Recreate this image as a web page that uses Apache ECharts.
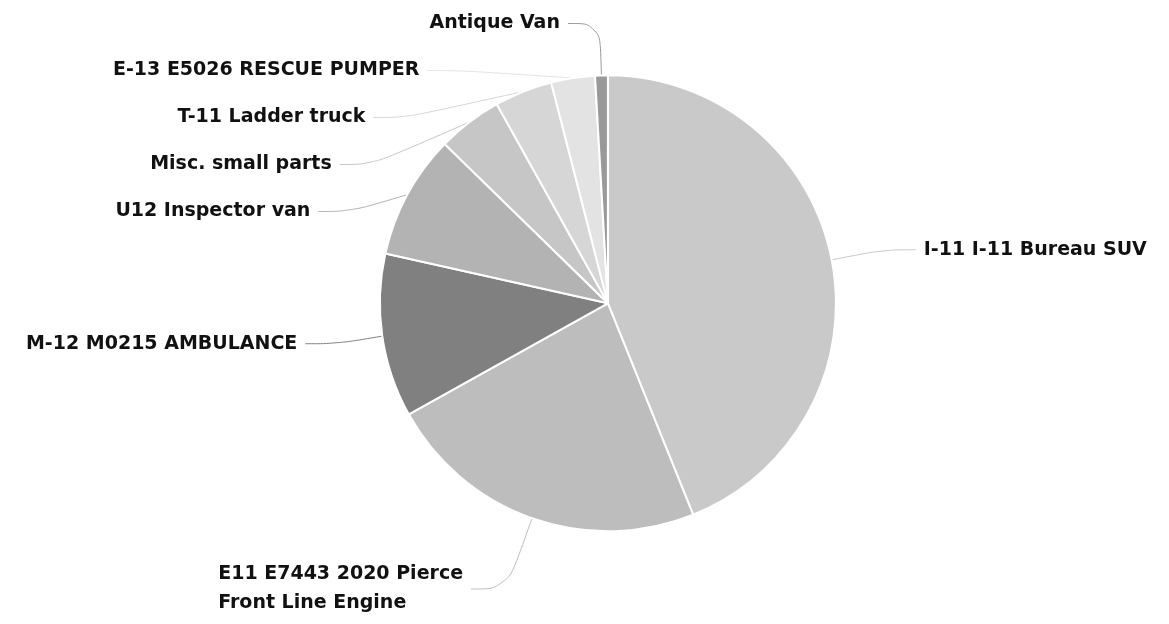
<!DOCTYPE html>
<html>
<head>
<meta charset="utf-8">
<script src="https://cdn.jsdelivr.net/npm/echarts@6/dist/echarts.min.js"></script>
<style>html,body{margin:0;padding:0;background:#fff;}#c{width:1169px;height:624px;}</style>
</head>
<body>
<div id="c"></div>
<script>
const categories = ["I-11 I-11 Bureau SUV", "E11 E7443 2020 Pierce Front Line Engine", "M-12 M0215 AMBULANCE", "U12 Inspector van", "Misc. small parts", "T-11 Ladder truck", "E-13 E5026 RESCUE PUMPER", "Antique Van"];
const values = [43.9, 23.0, 11.6, 8.8, 4.6, 4.1, 3.1, 0.9];
const colors = ["#c9c9c9", "#bdbdbd", "#808080", "#b3b3b3", "#c6c6c6", "#d6d6d6", "#e3e3e3", "#999999"];

// wrap long names into lines of at most ~22 characters at word boundaries
function wrapName(name, maxLen) {
  const words = name.split(' ');
  const lines = [];
  let cur = '';
  words.forEach(w => {
    if (cur && (cur + ' ' + w).length > maxLen) { lines.push(cur); cur = w; }
    else cur = cur ? cur + ' ' + w : w;
  });
  if (cur) lines.push(cur);
  return lines;
}

const chart = echarts.init(document.getElementById('c'));
chart.setOption({
  animation: false,
  backgroundColor: '#ffffff',
  series: [{
    type: 'pie',
    center: ['52%', '48.6%'],
    radius: 228,
    startAngle: 90,
    clockwise: true,
    data: categories.map((n, i) => {
      const d = { name: n, value: values[i], itemStyle: { color: colors[i] } };
      if (i === 1) {
        d.label = {
          lineHeight: 29, padding: 0,
          formatter: p => wrapName(p.name, 22).map(l => '{t|' + l + '}').join('\n'),
          rich: { t: { align: 'left', fontFamily: 'DejaVu Sans', fontWeight: 'bold', fontSize: 19, lineHeight: 29, color: '#111111' } }
        };
        d.labelLine = { length: 75, length2: 36 };
      }
      return d;
    }),
    itemStyle: { borderColor: '#ffffff', borderWidth: 2 },
    label: {
      show: true,
      position: 'outside',
      color: '#111111',
      fontFamily: 'DejaVu Sans',
      fontWeight: 'bold',
      fontSize: 19,
      lineHeight: 23,
      padding: [11, 0, 11, 0],
      distanceToLabelLine: 8
    },
    labelLine: {
      show: true,
      length: 53,
      length2: 32,
      smooth: 0.4,
      lineStyle: { width: 1 }
    }
  }]
});
</script>
</body>
</html>
